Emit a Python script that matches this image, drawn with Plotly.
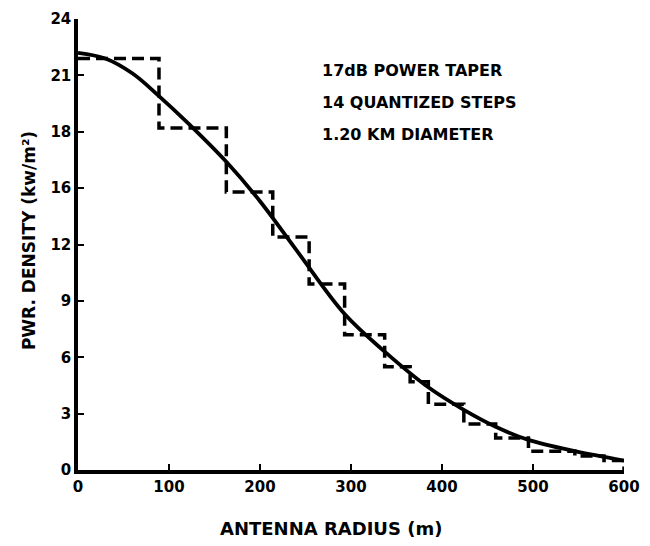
import plotly.graph_objects as go

# Smooth taper curve (antenna radius m, power density)
curve_r = [0, 30, 60, 89, 120, 163, 200, 240, 293, 337, 385, 424, 459, 495, 546, 600]
curve_v = [22.2, 21.9, 21.1, 19.9, 18.5, 16.4, 14.3, 11.7, 8.3, 6.3, 4.4, 3.2, 2.3, 1.6, 1.0, 0.5]

# Quantized steps: edges and levels
step_edges = [0, 89, 163, 214, 254, 293, 337, 365, 385, 424, 459, 495, 546, 578, 600]
step_levels = [21.9, 18.2, 14.8, 12.4, 9.9, 7.2, 5.5, 4.7, 3.5, 2.45, 1.7, 1.0, 0.75, 0.5]

y_tickvals = [0, 3, 6, 9, 12, 15, 18, 21, 24]
y_ticktext = ["0", "3", "6", "9", "12", "16", "18", "21", "24"]
x_tickvals = [0, 100, 200, 300, 400, 500, 600]
x_ticktext = ["0", "100", "200", "300", "400", "500", "600"]

notes = ["17dB POWER TAPER", "14 QUANTIZED STEPS", "1.20 KM DIAMETER"]

FONT = "DejaVu Sans, sans-serif"

# build step polyline from edges/levels
sx, sy = [], []
for i, lv in enumerate(step_levels):
    sx += [step_edges[i], step_edges[i + 1]]
    sy += [lv, lv]
sx.append(step_edges[-1])
sy.append(0)

fig = go.Figure()
fig.add_trace(go.Scatter(x=sx, y=sy, mode="lines",
                         line=dict(color="black", width=3.5, dash="12px,6px"),
                         hoverinfo="skip"))
fig.add_trace(go.Scatter(x=curve_r, y=curve_v, mode="lines",
                         line=dict(color="black", width=3.8, shape="spline", smoothing=1.0),
                         hoverinfo="skip"))

for i, t in enumerate(notes):
    fig.add_annotation(text="<b>" + t + "</b>", xref="paper", yref="paper",
                       x=(323 - 78) / 552, y=(470 - (63 + i * 32.5)) / 460,
                       xanchor="left", yanchor="middle",
                       showarrow=False, font=dict(family=FONT, size=16, color="black"))

fig.add_annotation(text="<b>ANTENNA RADIUS (m)</b>", xref="paper", yref="paper",
                   x=(334 - 78) / 552, y=(470 - 530) / 460, xanchor="center", yanchor="middle",
                   showarrow=False, font=dict(family=FONT, size=18, color="black"))
fig.add_annotation(text="<b>PWR. DENSITY (kw/m²)</b>", xref="paper", yref="paper",
                   x=(28 - 78) / 552, y=(470 - 236) / 460, xanchor="center", yanchor="middle",
                   textangle=-90, showarrow=False, font=dict(family=FONT, size=17, color="black"))

fig.update_layout(
    width=650, height=546,
    margin=dict(l=78, r=20, t=10, b=76),
    paper_bgcolor="white", plot_bgcolor="white",
    showlegend=False,
    font=dict(family=FONT, size=16, color="black"),
)
fig.update_xaxes(range=[0, 600], tickvals=x_tickvals, ticktext=["<b>%s</b>" % t for t in x_ticktext],
                 tickfont=dict(family=FONT, size=15),
                 showgrid=False, zeroline=False, showline=True, linecolor="black", linewidth=3.5,
                 ticks="inside", ticklen=6, tickwidth=2, tickcolor="black")
fig.update_yaxes(range=[0, 24], tickvals=y_tickvals, ticktext=["<b>%s</b>" % t for t in y_ticktext],
                 tickfont=dict(family=FONT, size=15),
                 showgrid=False, zeroline=False, showline=True, linecolor="black", linewidth=3.5,
                 ticks="inside", ticklen=6, tickwidth=2, tickcolor="black")

fig.write_html("out.html")
